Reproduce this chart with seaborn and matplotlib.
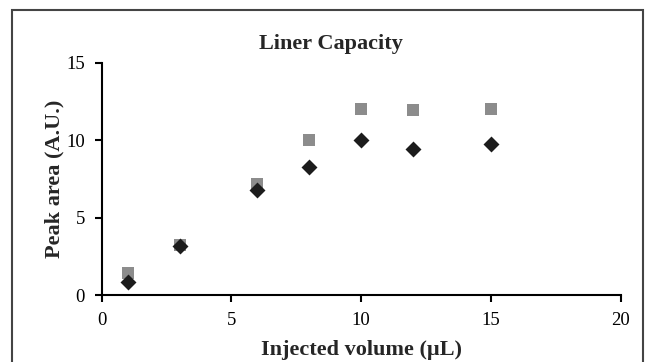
import pandas as pd
import matplotlib.pyplot as plt
import seaborn as sns
from matplotlib.patches import Rectangle

# Data
volume = [1, 3, 6, 8, 10, 12, 15]
area_diamond = [0.85, 3.15, 6.8, 8.3, 10.0, 9.45, 9.75]
area_square = [1.4, 3.25, 7.2, 10.0, 12.05, 11.95, 12.05]

sns.set_theme(style="white")
plt.rcParams["font.family"] = ["Liberation Serif", "DejaVu Serif"]

df = pd.DataFrame({
    "volume": volume * 2,
    "area": area_diamond + area_square,
    "series": ["A"] * len(volume) + ["B"] * len(volume),
})

fig = plt.figure(figsize=(6.48, 3.62), dpi=100)
ax = fig.add_axes([0.157, 0.185, 0.801, 0.641])

# squares drawn first so diamonds sit on top where they overlap
sns.scatterplot(data=df[df["series"] == "B"], x="volume", y="area", marker="s",
                color="#8c8c8c", s=63, linewidth=0, ax=ax, zorder=3)
sns.scatterplot(data=df[df["series"] == "A"], x="volume", y="area", marker="D",
                color="#1c1c1c", s=66, linewidth=0, ax=ax, zorder=4)

ax.set_xlim(0, 20)
ax.set_ylim(0, 15)
ax.set_xticks([0, 5, 10, 15, 20])
ax.set_yticks([0, 5, 10, 15])
ax.set_title("Liner Capacity", fontsize=16, fontweight="bold", x=0.441, pad=10)
ax.set_xlabel("Injected volume (µL)", fontsize=16, fontweight="bold", labelpad=8)
ax.set_ylabel("Peak area (A.U.)", fontsize=16, fontweight="bold", labelpad=1)

for side in ["top", "right"]:
    ax.spines[side].set_visible(False)
for side in ["left", "bottom"]:
    ax.spines[side].set_color("black")
    ax.spines[side].set_linewidth(1.5)
ax.tick_params(axis="both", which="major", direction="out", length=5, width=1.5,
               color="black", labelsize=13.5, labelcolor="black", left=True, bottom=True)
ax.tick_params(axis="x", pad=7)
ax.tick_params(axis="y", pad=7)

# outer frame around the chart
fig.patches.append(Rectangle((0.018, -0.01), 0.974, 0.982, transform=fig.transFigure,
                             fill=False, edgecolor="#444444", linewidth=1.5))

fig.savefig("out.png", dpi=100)
